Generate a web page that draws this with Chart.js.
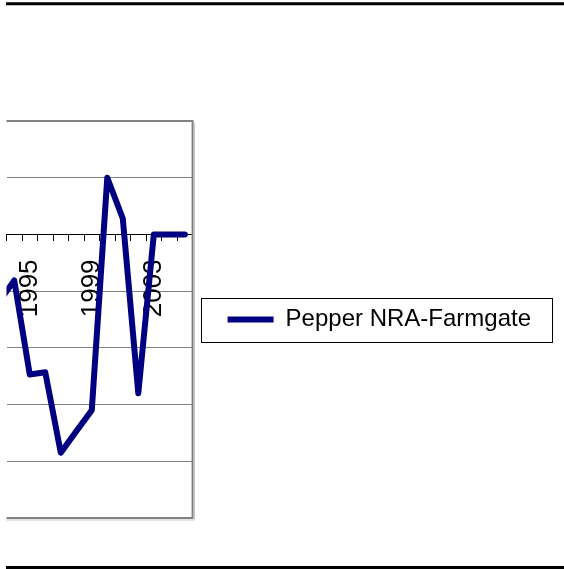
<!DOCTYPE html>
<html>
<head>
<meta charset="utf-8">
<script src="https://cdn.jsdelivr.net/npm/chart.js@4/dist/chart.umd.min.js"></script>
<style>
html,body{margin:0;padding:0;background:#fff;overflow:hidden}
canvas{display:block}
</style>
</head>
<body>
<canvas id="c" width="564" height="569"></canvas>
<script>
// ---- data ----
const years = [1993,1994,1995,1996,1997,1998,1999,2000,2001,2002,2003,2004,2005];
const nraFarmgate = [-12.0,-8.1,-24.7,-24.3,-38.5,-34.7,-31.0,10.0,2.8,-28.0,0,0,0];
const xTickLabels = ['1995','1999','2003'];
const seriesName = 'Pepper NRA-Farmgate';
const yMin = -50, yMax = 20, yStep = 10;
const xMin = 1993.5, xMax = 2005.5;

const FONT = "'Liberation Sans', Arial, sans-serif";

const framePlugin = {
  id: 'frame',
  beforeLayout(chart) {
    const lg = chart.legend;
    if (lg && !lg._wideFit) {
      const origFit = lg.fit;
      lg.fit = function () {
        this.maxWidth = 400;
        return origFit.apply(this, arguments);
      };
      lg._wideFit = true;
    }
  },
  beforeDatasetsDraw(chart) {
    const {ctx, chartArea: a} = chart;
    ctx.save();
    ctx.strokeStyle = '#c8c8c8';
    ctx.lineWidth = 1;
    ctx.beginPath();
    ctx.moveTo(a.right + 2, a.top + 2);
    ctx.lineTo(a.right + 2, a.bottom + 2);
    ctx.lineTo(a.left, a.bottom + 2);
    ctx.stroke();
    ctx.strokeStyle = '#808080';
    ctx.lineWidth = 2;
    ctx.beginPath();
    ctx.moveTo(a.left, a.top);
    ctx.lineTo(a.right, a.top);
    ctx.lineTo(a.right, a.bottom);
    ctx.lineTo(a.left, a.bottom);
    ctx.stroke();
    ctx.restore();
  },
  afterDraw(chart) {
    const {ctx, width, height} = chart;
    ctx.save();
    const hb = chart.legend && chart.legend.legendHitBoxes && chart.legend.legendHitBoxes[0];
    if (hb) {
      const cy = hb.top + hb.height / 2;
      const l = Math.round(hb.left - 26.5) + 0.5;
      const r = Math.round(hb.left + hb.width + 21) + 0.5;
      const t = Math.round(cy - 22) + 0.5;
      const b = Math.round(cy + 22) + 0.5;
      ctx.strokeStyle = '#000';
      ctx.lineWidth = 1;
      ctx.strokeRect(l, t, r - l, b - t);
    }
    ctx.strokeStyle = '#000';
    ctx.lineWidth = 3;
    ctx.beginPath();
    ctx.moveTo(6, 3.7);
    ctx.lineTo(width, 3.7);
    ctx.moveTo(6, height - 1.5);
    ctx.lineTo(width, height - 1.5);
    ctx.stroke();
    ctx.restore();
  }
};

new Chart(document.getElementById('c'), {
  type: 'line',
  data: {
    datasets: [{
      label: seriesName,
      data: years.map((y, i) => ({x: y, y: nraFarmgate[i]})),
      borderColor: '#000080',
      backgroundColor: '#000080',
      borderWidth: 6,
      pointRadius: 0,
      pointHoverRadius: 0,
      borderJoinStyle: 'round',
      borderCapStyle: 'round',
      tension: 0,
      fill: false,
      clip: 0
    }]
  },
  options: {
    responsive: false,
    animation: false,
    devicePixelRatio: 1,
    layout: {padding: {left: 6.5, right: 23, top: 121, bottom: 51}},
    scales: {
      x: {
        type: 'linear',
        min: xMin,
        max: xMax,
        position: {y: 0},
        afterBuildTicks(scale) {
          scale.ticks = years.map(y => ({value: y + 0.5}));
        },
        afterFit(scale) {
          scale.paddingLeft = 0;
          scale.paddingRight = 0;
        },
        ticks: {
          autoSkip: false,
          minRotation: 90,
          maxRotation: 90,
          labelOffset: 7.75,
          padding: 19,
          color: '#000',
          font: {family: FONT, size: 26},
          callback(value) {
            const lab = String(Math.round(value + 0.5));
            return xTickLabels.includes(lab) ? lab : '';
          }
        },
        grid: {
          drawOnChartArea: false,
          drawTicks: true,
          tickLength: 6,
          tickColor: '#000',
          color: '#000'
        },
        border: {display: true, color: '#000', width: 1}
      },
      y: {
        min: yMin,
        max: yMax,
        ticks: {display: false, stepSize: yStep},
        grid: {
          drawTicks: false,
          lineWidth: 1,
          color: (c) => (c.tick && c.tick.value === 0) ? '#000' : '#808080'
        },
        border: {display: false}
      }
    },
    plugins: {
      legend: {
        position: 'right',
        align: 'center',
        labels: {
          usePointStyle: true,
          pointStyle: 'line',
          pointStyleWidth: 46,
          padding: 35,
          color: '#000',
          font: {family: FONT, size: 24}
        }
      },
      tooltip: {enabled: false}
    }
  },
  plugins: [framePlugin]
});
</script>
</body>
</html>
